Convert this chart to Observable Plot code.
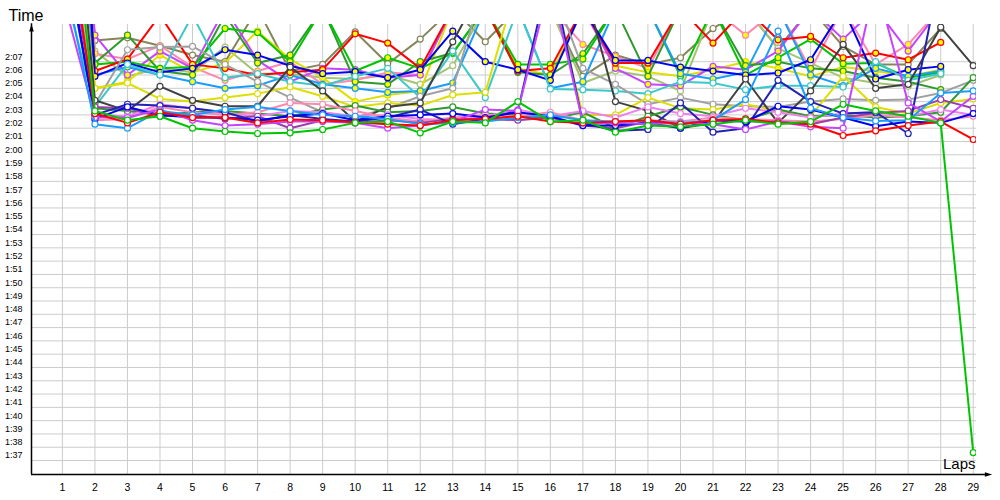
<!DOCTYPE html>
<html><head><meta charset="utf-8">
<script src="https://cdn.jsdelivr.net/npm/d3@7"></script>
<script src="https://cdn.jsdelivr.net/npm/@observablehq/plot@0.6"></script>
<style>html,body{margin:0;padding:0;background:#fff;} svg{display:block}</style>
</head><body><div id="chart"></div>
<script>
// Lap numbers and y tick values (seconds)
const laps = d3.range(1, 30);
const yTicks = d3.range(97, 128); // 1:37 .. 2:07

// Lap times in seconds, laps 1..29 (null = no lap)
// White-marker group
const green   = [145,123.3,122.6,122.9,122.0,121.75,121.6,121.65,121.9,122.4,122.5,121.65,122.5,122.4,124.0,122.5,122.6,121.7,122.2,122.1,122.3,122.6,122.3,122.5,123.8,123.3,122.9,122.4,97.6];
const red     = [140,123.1,122.4,123.2,122.8,122.8,122.4,122.65,122.6,122.45,122.3,122.2,122.6,122.7,122.9,122.5,122.4,122.5,122.6,122.3,122.6,122.7,122.4,122.3,121.45,121.8,122.2,122.5,121.15];
const dodger  = [134,122.3,122.0,123.3,123.0,123.4,123.6,123.3,123.0,122.9,122.7,122.3,122.4,122.5,122.8,123.0,122.6,122.5,122.55,122.4,122.6,124.15,129.3,123.5,122.8,122.55,122.6,124.65,124.8];
const violet  = [132,122.8,122.8,123.4,122.6,122.2,122.3,122.5,122.5,122.4,122.0,122.2,122.5,123.4,123.3,133,122.4,122.4,122.3,122.4,122.3,121.9,122.5,122.1,122.0,133,123.9,122.5,124.4];
const purple  = [138,123.6,123.5,122.9,123.0,122.7,122.9,122.0,122.6,122.4,122.6,122.4,122.7,122.7,122.6,122.8,122.2,122.0,122.5,122.3,122.6,122.5,122.5,122.3,122.8,123.15,123.3,124.15,123.5];
const navy    = [136,123.0,123.8,123.7,123.5,123.2,122.5,123.0,122.7,122.5,122.8,123.4,122.3,122.7,123.3,134,122.4,121.8,121.9,123.9,121.7,122.0,125.6,124.0,123.1,123.2,121.6,134,null];
const pink    = [142,122.6,122.7,123.6,123.2,123.0,123.2,123.9,123.8,123.3,122.8,122.5,122.8,123.0,122.9,123.2,122.6,122.4,122.6,122.5,122.8,122.7,122.6,122.5,122.7,123.0,122.8,122.6,122.9];
const darkGray= [150,124.1,123.3,125.15,124.1,123.65,123.65,126.6,124.8,122.5,123.6,123.9,128.5,133,133,133,133,124.0,123.3,122.0,122.4,125.7,122.4,124.8,128.3,125.0,125.3,129.6,126.7];
const gray    = [148,123.8,127.9,128.1,128.15,126.8,125.5,124.3,123.2,122.8,123.5,124.4,125.0,133,133,133,126.5,125.3,123.8,124.3,123.8,123.65,123.6,124.0,124.2,124.1,124.15,124.65,125.6];
const yellow  = [146,125.0,125.4,124.2,124.0,124.3,124.6,125.1,124.4,123.6,123.9,123.7,124.5,124.7,133,133,123.0,123.0,124.3,123.5,123.4,123.8,123.3,122.9,125.9,123.6,123.1,123.9,124.2];
const cyan    = [133,123.6,126.8,126.0,130.5,125.8,126.1,125.5,125.2,125.9,126.5,124.3,127.8,124.3,131,124.95,124.9,124.8,124.6,125.5,125.4,124.9,125.2,125.2,125.1,127.0,125.6,126.1,null];
const forest  = [139,123.5,123.3,123.0,123.2,123.3,123.1,122.9,123.4,123.7,123.2,123.3,123.6,123.1,123.0,122.7,123.2,122.0,122.9,123.6,123.0,122.6,123.4,122.9,123.0,122.8,122.9,123.2,125.8];
const blue    = [137,122.7,123.6,123.0,122.8,122.8,122.6,122.9,123.1,122.6,122.9,123.0,123.1,122.8,123.2,122.9,122.2,122.2,122.4,122.0,122.6,122.5,123.65,123.4,122.8,122.15,122.5,122.4,123.1];
const orchid  = [141,123.0,122.9,123.8,123.5,123.1,122.9,123.3,123.2,122.9,123.0,122.7,122.6,122.9,123.4,122.9,123.3,122.8,123.6,123.1,122.9,123.5,123.2,122.8,123.1,123.2,122.9,123.4,123.0];
const olive   = [162,128.6,128.8,128.2,127.5,127.0,131,126.3,126.8,129.25,126.85,128.7,131,128.5,131,131,125.9,127.5,126.8,127.3,129.5,131,128.0,131,128.15,126.8,126.8,129.5,null];
const lightOlive=[164,127.8,125.9,126.5,126.2,128.1,126.1,126.1,125.8,125.7,126.0,125.3,126.7,131,131,131,125.4,126.3,125.9,124.8,131,131,128.0,126.9,125.8,125.4,125.15,126.0,null];
// Yellow-marker group (laps 1..28)
const redY    = [160,126.3,127.2,130.5,126.8,126.5,126.0,126.2,126.4,129.1,128.4,126.5,131,131,126.3,126.5,131,126.9,126.9,131,128.4,131,128.65,128.9,127.3,127.65,127.15,128.45,null];
const blueY   = [165,125.9,126.9,126.2,126.5,127.9,127.5,126.7,126.1,126.25,125.8,126.4,129.3,127.0,126.4,125.6,131,127.1,127.1,126.6,126.3,126.0,126.15,127.15,131,125.7,126.4,126.65,null];
const greenY  = [155,126.8,127.0,126.5,126.6,129.5,129.2,127.0,131,126.3,127.3,126.5,127.65,131,126.8,126.8,127.2,131,131,125.9,131,126.0,127.3,128.7,126.85,126.9,125.8,126.2,null];
const violetY = [153,129.0,126.0,127.8,126.5,131,127.1,125.5,126.5,126.4,125.8,126.0,131,131,131,131,131,126.5,125.3,125.2,126.65,126.4,127.8,131,128.7,131,127.8,131,null];
const yellowY = [158,125.0,125.5,127.5,126.2,126.9,129.3,127.2,125.8,124.0,124.5,124.8,131,131,126.5,126.0,131,126.7,126.2,125.9,126.4,127.0,126.5,125.9,126.6,126.3,125.9,126.4,null];
const pinkY   = [170,127.6,127.2,128.2,126.6,125.6,126.3,127.0,125.3,125.6,126.2,126.0,131,131,131,131,128.3,127.4,126.5,131,131,129.0,131,126.4,131,126.8,128.3,131,null];
const forestY = [156,126.9,129.0,126.3,126.0,130.5,126.9,127.5,131,125.5,125.3,127.0,127.65,131,126.2,126.0,127.6,131,125.9,131,131,126.7,127.0,126.5,126.3,125.8,125.5,124.9,null];
const dodgerY = [152,126.0,126.6,126.0,125.5,125.0,125.2,126.0,125.3,125.0,124.7,124.8,125.4,131,131,125.0,125.5,131,131,126.1,125.7,126.2,131,126.0,125.2,126.5,125.9,126.3,null];

const seriesList = [
  // [values, color, marker fill]
  [olive, "#86845a", "#fff"],
  [lightOlive, "#a4c474", "#fff"],
  [pinkY, "#ff88b0", "#ffff00"],
  [yellowY, "#dede00", "#ffff00"],
  [violetY, "#c444ff", "#ffff00"],
  [forestY, "#2e9a2e", "#ffff00"],
  [greenY, "#00c400", "#ffff00"],
  [dodgerY, "#1a9cff", "#ffff00"],
  [redY, "#ff0000", "#ffff00"],
  [blueY, "#0000ee", "#ffff00"],
  [cyan, "#3cc8c8", "#fff"],
  [gray, "#a0a0a0", "#fff"],
  [yellow, "#dede00", "#fff"],
  [darkGray, "#404040", "#fff"],
  [forest, "#2e9a2e", "#fff"],
  [orchid, "#f080f0", "#fff"],
  [pink, "#ff88b0", "#fff"],
  [purple, "#9a3ea8", "#fff"],
  [navy, "#2222b4", "#fff"],
  [blue, "#0000ee", "#fff"],
  [violet, "#c444ff", "#fff"],
  [dodger, "#1a9cff", "#fff"],
  [red, "#ff0000", "#fff"],
  [green, "#00c400", "#fff"]
];

const fmt = v => `${Math.floor(v / 60)}:${String(Math.round(v % 60)).padStart(2, "0")}`;

const X0 = 0.05, X1 = 29.1, Y0 = 95.95, Y1 = 129.8;

const arrowRight = {draw(ctx, size) { const s = Math.sqrt(size) / 2; ctx.moveTo(s * 1.3, 0); ctx.lineTo(-s * 1.3, -s * 0.8); ctx.lineTo(-s * 1.3, s * 0.8); ctx.closePath(); }};
const arrowUp = {draw(ctx, size) { const s = Math.sqrt(size) / 2; ctx.moveTo(0, -s * 1.3); ctx.lineTo(-s * 0.8, s * 1.3); ctx.lineTo(s * 0.8, s * 1.3); ctx.closePath(); }};

const marks = [
  Plot.ruleX(laps, {x: d => d, stroke: "#cccccc", strokeWidth: 1}),
  Plot.ruleY(yTicks, {y: d => d, stroke: "#cccccc", strokeWidth: 1})
];
for (const [vals, color, fill] of seriesList) {
  const rows = laps.map((lap, i) => ({lap, time: vals[i]})).filter(d => d.time != null);
  marks.push(Plot.line(rows, {x: "lap", y: "time", stroke: color, strokeWidth: 2, clip: true}));
  marks.push(Plot.dot(rows, {x: "lap", y: "time", r: 3, fill: fill, stroke: color, strokeWidth: 1.2, clip: true}));
}
marks.push(
  Plot.ruleX([X0], {x: d => d, y1: Y0, y2: 129.85, stroke: "#000", strokeWidth: 1.5}),
  Plot.ruleY([Y0], {y: d => d, x1: X0, x2: 29.45, stroke: "#000", strokeWidth: 1.5}),
  Plot.dot([0], {x: X0, y: 129.55, symbol: arrowUp, r: 3.2, fill: "#000", stroke: "none"}),
  Plot.dot([0], {x: 29.47, y: Y0, symbol: arrowRight, r: 3.2, fill: "#000", stroke: "none"}),
  Plot.text(yTicks, {x: X0, y: d => d, text: fmt, textAnchor: "end", dx: -9, dy: -5, fontSize: 9, fill: "#000"}),
  Plot.text(laps, {x: d => d, y: Y0, text: d => String(d), dy: 13.5, fontSize: 10.5, fill: "#000"}),
  Plot.text(["Time"], {x: X0, y: Y1, text: d => d, textAnchor: "start", dx: -23, dy: -9, fontSize: 16, fill: "#000"}),
  Plot.text(["Laps"], {x: X1, y: Y0, text: d => d, textAnchor: "end", dx: -1, dy: -10, fontSize: 15, fill: "#000"})
);

const chart = Plot.plot({
  width: 1000, height: 500,
  marginLeft: 31, marginRight: 24, marginTop: 24, marginBottom: 26,
  x: {domain: [X0, X1], axis: null},
  y: {domain: [Y0, Y1], axis: null},
  style: {background: "#fff", fontFamily: "'Liberation Sans', Arial, sans-serif", overflow: "visible"},
  marks
});
document.getElementById("chart").appendChild(chart);
</script>
</body></html>
